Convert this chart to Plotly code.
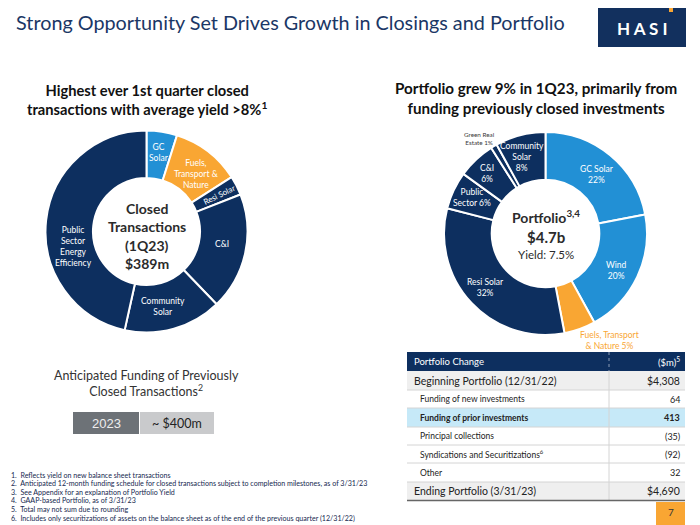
import math
import plotly.graph_objects as go

W, H = 700, 525

# ---------------- data ----------------
closed_labels = ["GC<br>Solar", "Fuels,<br>Transport &<br>Nature", "Resi Solar", "C&I",
                 "Community<br>Solar", "Public<br>Sector<br>Energy<br>Efficiency"]
closed_values = [19, 43, 12, 73, 61, 181]   # $m, total ~ $389m

port_labels = ["GC Solar<br>22%", "Wind<br>20%", "Fuels, Transport<br>& Nature 5%", "Resi Solar<br>32%",
               "Public<br>Sector 6%", "C&I<br>6%", "Green Real<br>Estate 1%", "Community<br>Solar<br>8%"]
port_values = [22, 20, 5, 32, 6, 6, 1, 8]

table_labels = ["Beginning Portfolio (12/31/22)", "Funding of new investments",
                "Funding of prior investments", "Principal collections",
                "Syndications and Securitizations<sup>6</sup>", "Other",
                "Ending Portfolio (3/31/23)"]
table_values = ["$4,308", "64", "413", "(35)", "(92)", "32", "$4,690"]

footnotes = [
    "1.  Reflects yield on new balance sheet transactions",
    "2.  Anticipated 12-month funding schedule for closed transactions subject to completion milestones, as of 3/31/23",
    "3.  See Appendix for an explanation of Portfolio Yield",
    "4.  GAAP-based Portfolio, as of 3/31/23",
    "5.  Total may not sum due to rounding",
    "6.  Includes only securitizations of assets on the balance sheet as of the end of the previous quarter (12/31/22)",
]

# ---------------- style ----------------
NAVY = "#0d2f5f"
LBLUE = "#2290d5"
ORANGE = "#f9a633"
FONT = "Lato"

closed_colors = [LBLUE, ORANGE, NAVY, NAVY, NAVY, NAVY]
port_colors = [LBLUE, LBLUE, ORANGE, NAVY, NAVY, NAVY, NAVY, NAVY]


def X(px):
    return px / W


def Y(py):
    return 1 - py / H


ann = []
shapes = []


def text(px, py, txt, size, color="#222222", xanchor="center", family=FONT, angle=0):
    ann.append(dict(x=X(px), y=Y(py), xref="paper", yref="paper", text=txt, showarrow=False,
                    xanchor=xanchor, yanchor="middle", textangle=angle,
                    font=dict(family=family, size=size, color=color)))


def rect(x0, y0, x1, y1, color):
    shapes.append(dict(type="rect", xref="paper", yref="paper", x0=X(x0), x1=X(x1), y0=Y(y1), y1=Y(y0),
                       fillcolor=color, line=dict(width=0), layer="above"))


def line(x0, y0, x1, y1, color, width=1, dash="solid"):
    shapes.append(dict(type="line", xref="paper", yref="paper", x0=X(x0), x1=X(x1), y0=Y(y0), y1=Y(y1),
                       line=dict(color=color, width=width, dash=dash), layer="above"))


fig = go.Figure()

# donut geometry (pixels)
L_C, L_R = (146.5, 231.5), 101
R_C, R_R = (545.5, 233.5), 101.5
HOLE = 0.53

fig.add_trace(go.Pie(
    values=closed_values, labels=[l.replace("<br>", " ") for l in closed_labels],
    marker=dict(colors=closed_colors, line=dict(color="white", width=2)),
    hole=HOLE, sort=False, direction="clockwise", rotation=0,
    textinfo="none", hoverinfo="skip", showlegend=False,
    domain=dict(x=[X(L_C[0] - L_R), X(L_C[0] + L_R)], y=[Y(L_C[1] + L_R), Y(L_C[1] - L_R)]),
))
fig.add_trace(go.Pie(
    values=port_values, labels=[l.replace("<br>", " ") for l in port_labels],
    marker=dict(colors=port_colors, line=dict(color="white", width=2)),
    hole=HOLE, sort=False, direction="clockwise", rotation=0,
    textinfo="none", hoverinfo="skip", showlegend=False,
    domain=dict(x=[X(R_C[0] - R_R), X(R_C[0] + R_R)], y=[Y(R_C[1] + R_R), Y(R_C[1] - R_R)]),
))


def slice_labels(values, labels, center, styles):
    tot = sum(values)
    cum = 0
    for v, lab, st in zip(values, labels, styles):
        mid = (cum + v / 2) / tot * 360 + st.get("da", 0)
        cum += v
        r = st.get("r", 78)
        px = center[0] + r * math.sin(math.radians(mid))
        py = center[1] - r * math.cos(math.radians(mid))
        text(px, py, lab, st.get("size", 8.5), st.get("color", "white"), angle=st.get("rot", 0))


slice_labels(closed_values, closed_labels, L_C, [
    dict(r=80), dict(r=76, da=3), dict(r=81, rot=-26, size=8), dict(r=77, da=-3),
    dict(r=77, da=3), dict(r=75, da=-18)])
slice_labels(port_values, port_labels, R_C, [
    dict(r=78, da=1.5), dict(r=80, da=2), dict(r=125, da=-11, color=ORANGE, size=8.5),
    dict(r=81, da=1), dict(r=82, da=0.5), dict(r=84, da=-1),
    dict(r=116, da=-4, color="#3a3a3a", size=6.3), dict(r=80, da=-3, size=8.5)])

# center texts
for txt, y in [("Closed", 208), ("Transactions", 227), ("(1Q23)", 245), ("$389m", 263)]:
    text(146.5, y, "<b>%s</b>" % txt, 14, "#2b2b2b")
text(545.5, 216, "<b>Portfolio<sup>3,4</sup></b>", 14, "#2b2b2b")
text(545.5, 237, "<b>$4.7b</b>", 15, "#2b2b2b")
text(545.5, 254, "Yield: 7.5%", 11.5, "#2b2b2b")

# titles
text(14, 22, "Strong Opportunity Set Drives Growth in Closings and Portfolio", 19.8, "#1b3766", xanchor="left")
text(147, 99, "<b>Highest ever 1st quarter closed<br>transactions with average yield >8%<sup>1</sup></b>",
     14.7, "#111111")
text(536, 98, "<b>Portfolio grew 9% in 1Q23, primarily from<br>funding previously closed investments</b>",
     15.2, "#111111")

# logo
rect(598, 8, 686, 47, "#12305e")
rect(669, 8, 673, 12, ORANGE)
text(642, 28, "<b>H A S I</b>", 17, "white")

# anticipated funding
text(146, 383, "Anticipated Funding of Previously<br>Closed Transactions<sup>2</sup>", 12.5, "#333333")
rect(73, 412, 139, 434, "#6d7277")
rect(140, 412, 214, 434, "#c9cacc")
text(106, 423, "2023", 13, "#eeeeee", family="Liberation Sans")
text(177, 423, "~ $400m", 12.5, "#222222")

# table
TX0, TX1, TDIV = 407, 685, 609
rect(TX0, 352, TX1, 371, NAVY)
line(TDIV, 352, TDIV, 371, "#8a9bb5", 1, "dot")
text(412, 361.5, "Portfolio Change", 9.5, "white", xanchor="left")
text(682, 361.5, "($m)<sup>5</sup>", 9.5, "white", xanchor="right")
bounds = [371, 390, 408, 427, 445, 463, 482, 500]
fills = ["#efefef", "white", "#c6e9f8", "white", "white", "white", "#efefef"]
for i, (lab, val) in enumerate(zip(table_labels, table_values)):
    y0, y1 = bounds[i], bounds[i + 1]
    rect(TX0, y0, TX1, y1, fills[i])
for i, (lab, val) in enumerate(zip(table_labels, table_values)):
    y0, y1 = bounds[i], bounds[i + 1]
    main = i in (0, 6)
    bold = i == 2
    t = "<b>%s</b>" % lab if bold else lab
    v = "<b>%s</b>" % val if bold else val
    ym = (y0 + y1) / 2
    text(412 if main else 418, ym, t, 10.5 if main else 8.5, "#222222", xanchor="left")
    text(682, ym, v, 10.5 if main else 9, "#222222", xanchor="right")
for b in bounds[1:-1]:
    line(TX0, b, TX1, b, "#d4d4d4", 1)
line(TDIV, 371, TDIV, 500, "#d4d4d4", 1)
line(TX0, 500.5, TX1, 500.5, "#666666", 1.5)

# page number
rect(656, 502, 685, 525, ORANGE)
text(670.5, 512, "7", 10, "#333333")

# footnotes
for i, f in enumerate(footnotes):
    text(9, 475 + i * 8.6, f, 7.1, "#15284f", xanchor="left")

fig.update_layout(
    width=W, height=H, margin=dict(l=0, r=0, t=0, b=0),
    paper_bgcolor="white", plot_bgcolor="white",
    annotations=ann, shapes=shapes,
)

fig.write_html("out.html", post_script="document.body.style.margin='0';",
               config={"displayModeBar": False})
